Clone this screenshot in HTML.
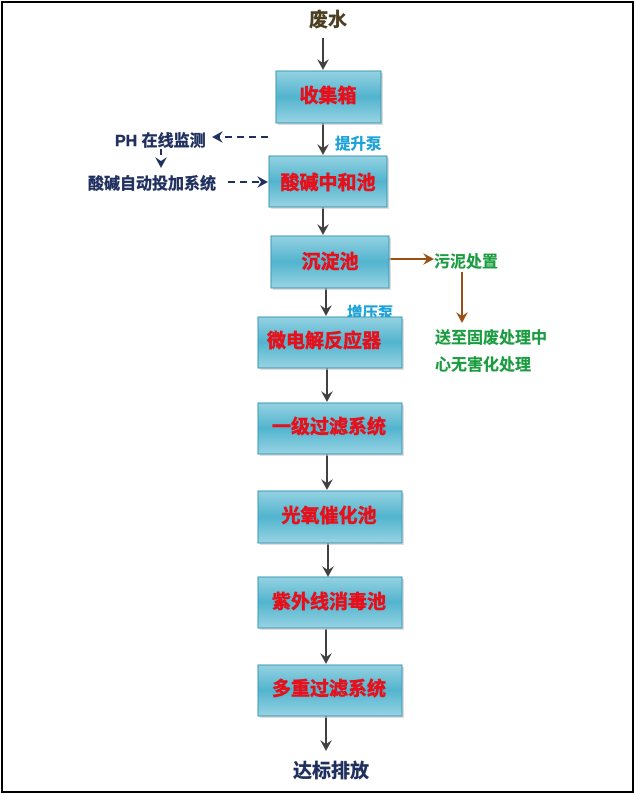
<!DOCTYPE html>
<html><head><meta charset="utf-8">
<style>
html,body{margin:0;padding:0;background:#fff;}
svg{display:block;}
text{font-family:"Liberation Sans","Noto Sans CJK SC",sans-serif;font-weight:bold;}
</style></head>
<body>
<svg width="635" height="794" viewBox="0 0 635 794" xmlns="http://www.w3.org/2000/svg">
<defs>
<linearGradient id="g" x1="0" y1="0" x2="0" y2="1">
<stop offset="0" stop-color="#95d2e2"/>
<stop offset="0.5" stop-color="#52b4ce"/>
<stop offset="1" stop-color="#97d3e3"/>
</linearGradient>
</defs>
<rect x="2" y="2" width="631" height="790" fill="none" stroke="#000" stroke-width="2"/>

<!-- labels behind boxes -->
<g font-size="15.5" fill="#1ba3d8" stroke="#1ba3d8" stroke-width="0.3">
<text x="335" y="149">提升泵</text>
<text x="347" y="318">增压泵</text>
</g>

<!-- vertical arrows -->
<g stroke="#404040" stroke-width="2" fill="none">
<line x1="323" y1="38" x2="323" y2="64"/>
<line x1="323" y1="123" x2="323" y2="149"/>
<line x1="323" y1="207" x2="323" y2="229"/>
<line x1="326" y1="288" x2="326" y2="310"/>
<line x1="327" y1="368" x2="327" y2="396"/>
<line x1="327" y1="454" x2="327" y2="484"/>
<line x1="328" y1="543" x2="328" y2="571"/>
<line x1="326" y1="629" x2="326" y2="658"/>
<line x1="326" y1="716" x2="326" y2="745"/>
</g>
<g fill="#404040">
<polygon points="323,70 317,59 323,63 329,59"/>
<polygon points="323,155 317,144 323,148 329,144"/>
<polygon points="323,235 317,224 323,228 329,224"/>
<polygon points="326,316 320,305 326,309 332,305"/>
<polygon points="327,402 321,391 327,395 333,391"/>
<polygon points="327,490 321,479 327,483 333,479"/>
<polygon points="328,577 322,566 328,570 334,566"/>
<polygon points="326,664 320,653 326,657 332,653"/>
<polygon points="326,751 320,740 326,744 332,740"/>
</g>

<!-- dashed arrows -->
<g stroke="#1f2f5e" stroke-width="2" fill="none">
<line x1="268" y1="137" x2="218" y2="137" stroke-dasharray="7,5"/>
<line x1="228" y1="182" x2="262" y2="182" stroke-dasharray="7,5"/>
<line x1="161" y1="149" x2="161" y2="155"/>
</g>
<g fill="#1f2f5e">
<polygon points="212,137 223,131 219,137 223,143"/>
<polygon points="268,182 257,176 261,182 257,188"/>
<polygon points="161,168 155,157 161,161 167,157"/>
</g>

<!-- brown arrows -->
<g stroke="#9c4f14" stroke-width="2" fill="none">
<line x1="389" y1="259" x2="428" y2="259"/>
<line x1="462" y1="272" x2="462" y2="316"/>
</g>
<g fill="#9c4f14">
<polygon points="434,259 423,253 427,259 423,265"/>
<polygon points="462,323 456,312 462,316 468,312"/>
</g>

<!-- boxes -->
<g stroke="#3d9bb5" stroke-width="1">
<rect x="278" y="73" width="105" height="52" fill="#c8c8c8" stroke="none" opacity="0.6"/>
<rect x="276" y="71" width="105" height="52" fill="url(#g)"/>
<rect x="271" y="158" width="118" height="51" fill="#c8c8c8" stroke="none" opacity="0.6"/>
<rect x="269" y="156" width="118" height="51" fill="url(#g)"/>
<rect x="273" y="238" width="118" height="52" fill="#c8c8c8" stroke="none" opacity="0.6"/>
<rect x="271" y="236" width="118" height="52" fill="url(#g)"/>
<rect x="260" y="319" width="144" height="51" fill="#c8c8c8" stroke="none" opacity="0.6"/>
<rect x="258" y="317" width="144" height="51" fill="url(#g)"/>
<rect x="260" y="405" width="144" height="51" fill="#c8c8c8" stroke="none" opacity="0.6"/>
<rect x="258" y="403" width="144" height="51" fill="url(#g)"/>
<rect x="260" y="493" width="144" height="52" fill="#c8c8c8" stroke="none" opacity="0.6"/>
<rect x="258" y="491" width="144" height="52" fill="url(#g)"/>
<rect x="260" y="579" width="144" height="51" fill="#c8c8c8" stroke="none" opacity="0.6"/>
<rect x="258" y="577" width="144" height="51" fill="url(#g)"/>
<rect x="260" y="667" width="144" height="51" fill="#c8c8c8" stroke="none" opacity="0.6"/>
<rect x="258" y="665" width="144" height="51" fill="url(#g)"/>
</g>

<!-- box labels -->
<g font-size="19" fill="#e5111c" stroke="#e5111c" stroke-width="0.6" text-anchor="middle">
<text x="328" y="102">收集箱</text>
<text x="328" y="189">酸碱中和池</text>
<text x="330" y="268">沉淀池</text>
<text x="324" y="347">微电解反应器</text>
<text x="329" y="433">一级过滤系统</text>
<text x="329" y="522">光氧催化池</text>
<text x="329" y="608">紫外线消毒池</text>
<text x="329" y="695">多重过滤系统</text>
</g>

<text x="328" y="26" font-size="19" fill="#4a3d20" stroke="#4a3d20" stroke-width="0.4" text-anchor="middle">废水</text>
<text x="331" y="777" font-size="19" fill="#1f2f5e" stroke="#1f2f5e" stroke-width="0.4" text-anchor="middle">达标排放</text>

<g fill="#1f2f5e" stroke="#1f2f5e" stroke-width="0.4">
<text x="115" y="146" font-size="16">PH 在线监测</text>
<text x="88" y="189" font-size="16">酸碱自动投加系统</text>
</g>

<g font-size="16" fill="#1c9c40" stroke="#1c9c40" stroke-width="0.2">
<text x="434" y="267">污泥处置</text>
<text x="435" y="343">送至固废处理中</text>
<text x="435" y="370">心无害化处理</text>
</g>
</svg>
</body></html>
